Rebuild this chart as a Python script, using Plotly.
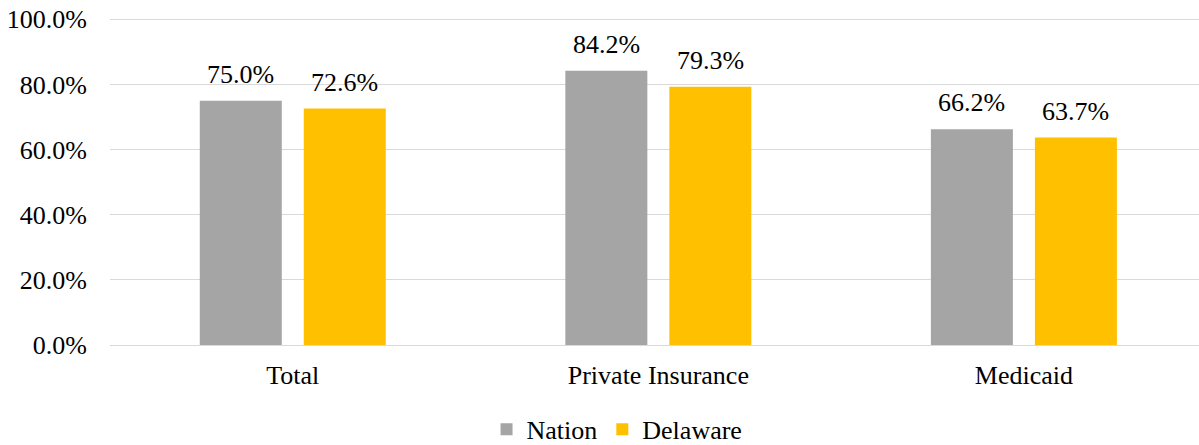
import plotly.graph_objects as go

categories = ["Total", "Private Insurance", "Medicaid"]
nation = [75.0, 84.2, 66.2]
delaware = [72.6, 79.3, 63.7]
series_names = ["Nation", "Delaware"]
y_ticks = [0, 20, 40, 60, 80, 100]

colors = ["#a5a5a5", "#ffc000"]
FONT = "Liberation Serif"

fig = go.Figure()
for name, vals, col in zip(series_names, [nation, delaware], colors):
    fig.add_trace(go.Bar(name=name, x=categories, y=vals, marker_color=col,
                         marker_line_width=0))

# data labels
slot_shift = 52
for i, (vals, sign) in enumerate([(nation, -1), (delaware, 1)]):
    for c, v in zip(categories, vals):
        fig.add_annotation(x=c, y=v, xref="x", yref="y", text=f"{v:.1f}%",
                           showarrow=False, yanchor="bottom", xshift=sign * slot_shift,
                           yshift=10, font=dict(family=FONT, size=26, color="#000000"))

fig.update_layout(
    width=1199, height=445,
    margin=dict(l=110, r=0, t=15.735, b=99.5, autoexpand=False),
    paper_bgcolor="white", plot_bgcolor="white",
    font=dict(family=FONT, size=26, color="#000000"),
    barmode="group", bargap=0.431, bargroupgap=0.2115,
    showlegend=True,
    legend=dict(orientation="h", x=0.4656, xanchor="center", y=-0.2562, yanchor="middle",
                font=dict(family=FONT, size=26, color="#000000"), traceorder="normal"),
    xaxis=dict(range=[-0.5, 2.479], showgrid=False, showline=False, ticks="",
               tickfont=dict(family=FONT, size=26, color="#000000"), ticklabelstandoff=12),
    yaxis=dict(range=[0, 101], tickvals=y_ticks, ticktext=[f"{t:.1f}%" for t in y_ticks],
               showgrid=True, gridcolor="#d9d9d9", gridwidth=1.3, zeroline=True,
               zerolinecolor="#d9d9d9", zerolinewidth=1.3, showline=False, ticks="",
               tickfont=dict(family=FONT, size=26, color="#000000"), ticklabelstandoff=22),
)

# remove the default 8px page margin so the figure fills the window exactly
fig.write_html("out.html", config={"displayModeBar": False},
               post_script="document.body.style.margin='0';document.body.style.overflow='hidden';")
